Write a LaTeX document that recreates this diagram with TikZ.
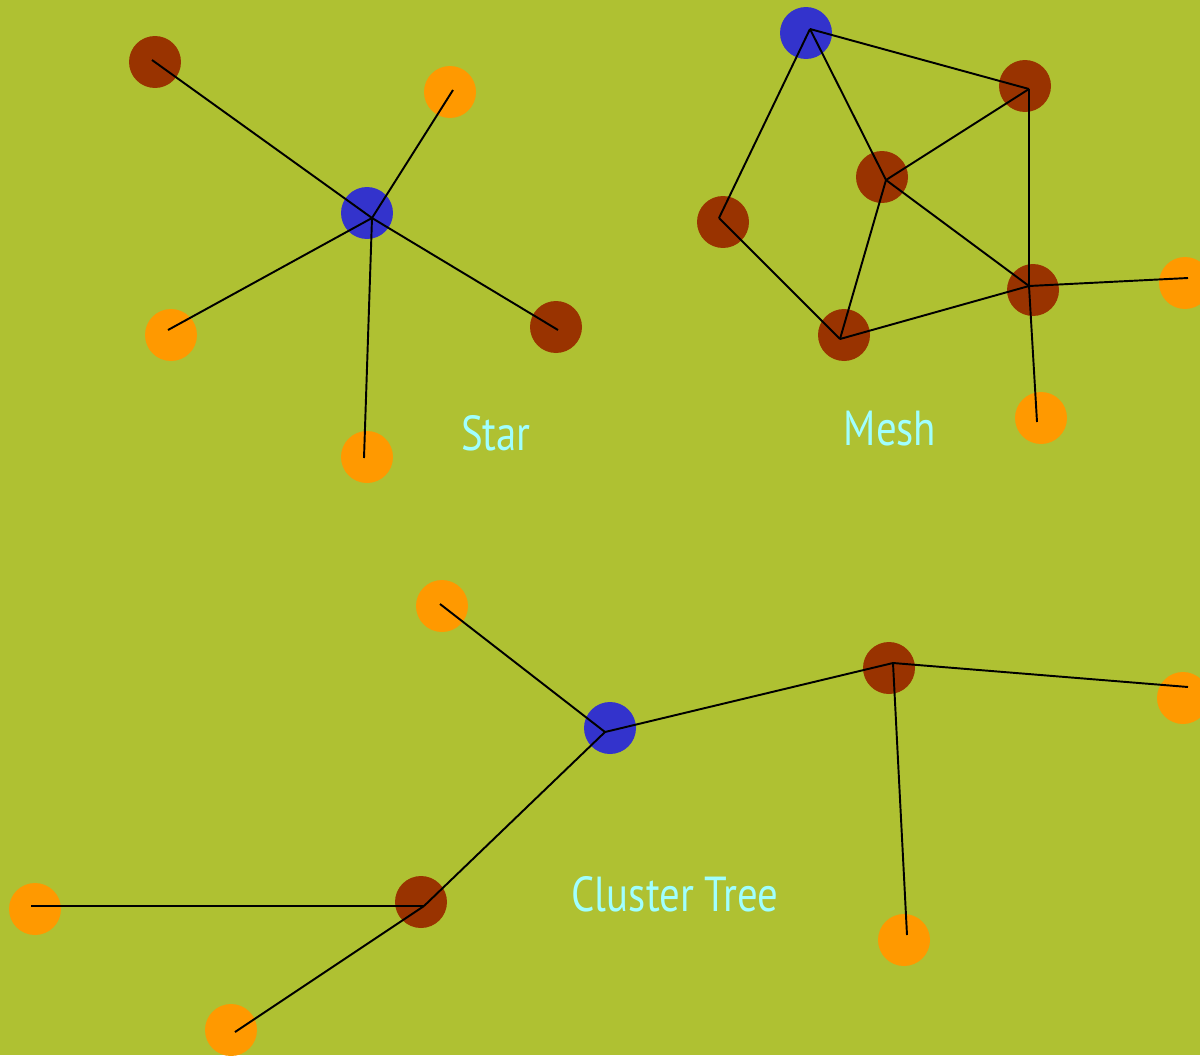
\documentclass[tikz,border=0pt]{standalone}
\usepackage{fontspec}
\setmainfont{PT Sans}
\newfontfamily\labelfont[FakeStretch=0.83]{PT Sans}
\usepackage{tikz}
\usetikzlibrary{positioning}
\definecolor{field}{RGB}{175,193,50}
\definecolor{hubcol}{RGB}{51,51,204}
\definecolor{routcol}{RGB}{153,51,0}
\definecolor{leafcol}{RGB}{255,153,0}
\definecolor{labcol}{RGB}{160,255,255}

\begin{document}
\begin{tikzpicture}[x=0.02cm,y=-0.02cm,
  dev/.style={circle,inner sep=0pt,minimum size=1.04cm},
  hub/.style={dev,fill=hubcol}, rout/.style={dev,fill=routcol}, leaf/.style={dev,fill=leafcol},
  link/.style={line width=1.1pt,black},
  toplabel/.style={anchor=base,text=labcol,font=\labelfont\fontsize{28}{32}\selectfont}]
\fill[field] (0,0) rectangle (1200,1055);
\useasboundingbox (0,0) rectangle (1200,1055);
% star
\node[hub] (sH) at (367,213) {}; \coordinate (sHc) at (372,218);
\node[rout] (s1) at (155,62) {}; \coordinate (s1c) at (152,60);
\node[leaf] (s2) at (450,92) {}; \coordinate (s2c) at (453,90);
\node[leaf] (s3) at (171,335) {}; \coordinate (s3c) at (168,330);
\node[rout] (s4) at (556,327) {}; \coordinate (s4c) at (558,330);
\node[leaf] (s5) at (367,457) {}; \coordinate (s5c) at (364,458);
\foreach \n in {s1,s2,s3,s4,s5} \draw[link] (sHc)--(\n c);
\node[toplabel] (star) at (496,450) {Star};
% mesh
\node[hub] (mH) at (806,33) {}; \coordinate (mHc) at (810,29);
\node[rout] (m1) at (1025,86) {}; \coordinate (m1c) at (1029,89);
\node[rout] (m2) at (882,177) {}; \coordinate (m2c) at (886,180);
\node[rout] (m3) at (723,222) {}; \coordinate (m3c) at (719,218);
\node[rout] (m4) at (844,335) {}; \coordinate (m4c) at (840,339);
\node[rout] (m5) at (1033,290) {}; \coordinate (m5c) at (1029,286);
\node[leaf] (m6) at (1185,283) {}; \coordinate (m6c) at (1188,278);
\node[leaf] (m7) at (1041,418) {}; \coordinate (m7c) at (1037,422);
\foreach \a/\b in {mH/m1,mH/m3,mH/m2,m1/m2,m1/m5,m2/m5,m2/m4,m3/m4,m4/m5,m5/m6,m5/m7}
  \draw[link] (\a c)--(\b c);
\node[toplabel] (mesh) at (890,445) {Mesh};
% cluster tree
\node[hub] (cH) at (610,728) {}; \coordinate (cHc) at (605,732);
\node[leaf] (c1) at (442,606) {}; \coordinate (c1c) at (440,604);
\node[rout] (c2) at (889,668) {}; \coordinate (c2c) at (893,663);
\node[leaf] (c3) at (1183,698) {}; \coordinate (c3c) at (1188,687);
\node[leaf] (c4) at (904,940) {}; \coordinate (c4c) at (907,935);
\node[rout] (c5) at (421,902) {}; \coordinate (c5c) at (424,906);
\node[leaf] (c6) at (35,909) {}; \coordinate (c6c) at (31,906);
\node[leaf] (c7) at (231,1030) {}; \coordinate (c7c) at (235,1032);
\foreach \a/\b in {cH/c1,cH/c2,c2/c3,c2/c4,cH/c5,c5/c6,c5/c7}
  \draw[link] (\a c)--(\b c);
\node[toplabel] (ctree) at (675,911) {Cluster Tree};
\end{tikzpicture}
\end{document}
